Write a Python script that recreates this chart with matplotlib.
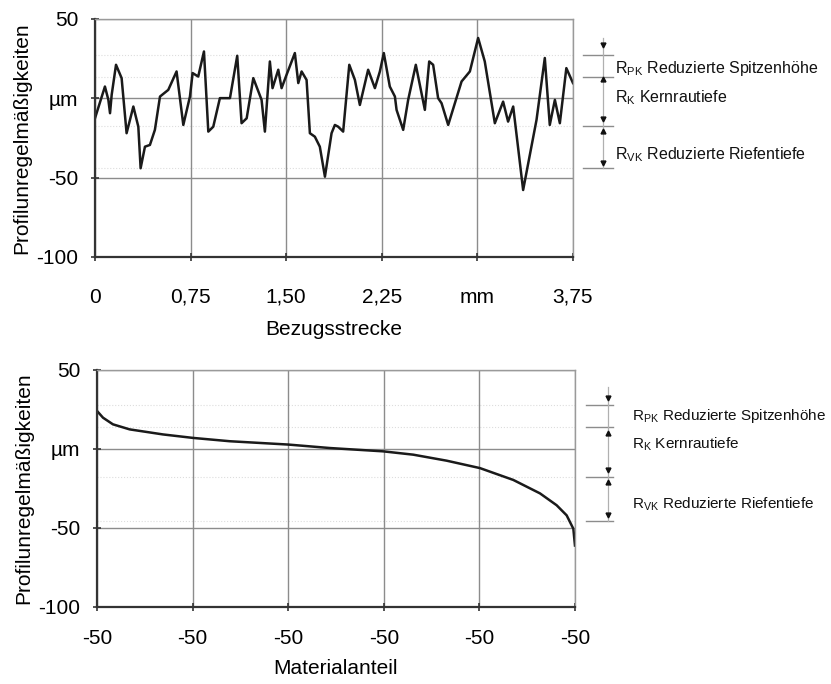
#!/usr/bin/env python
# Rauheitsprofil und Abbott-Kurve mit Rpk / Rk / Rvk Kennwerten
import matplotlib
matplotlib.use("Agg")
import matplotlib.pyplot as plt
import matplotlib.transforms as mtransforms

plt.rcParams['font.family'] = ['Liberation Sans', 'DejaVu Sans']
plt.rcParams['mathtext.default'] = 'regular'

### Daten ###
# Profil (Bezugsstrecke in mm, Profilhoehe in um)
profil_x = [0.0, 0.078, 0.105, 0.118, 0.131, 0.165, 0.209, 0.248, 0.301, 0.340,
            0.358, 0.392, 0.431, 0.470, 0.510, 0.575, 0.640, 0.693, 0.745, 0.766,
            0.810, 0.855, 0.889, 0.928, 0.980, 1.059, 1.116, 1.150, 1.190, 1.242,
            1.307, 1.333, 1.372, 1.393, 1.438, 1.464, 1.503, 1.568, 1.595, 1.621,
            1.660, 1.686, 1.725, 1.764, 1.804, 1.856, 1.882, 1.908, 1.947, 1.995,
            2.039, 2.078, 2.143, 2.196, 2.235, 2.266, 2.313, 2.353, 2.366, 2.418,
            2.457, 2.517, 2.588, 2.622, 2.653, 2.692, 2.719, 2.771, 2.876, 2.941,
            3.006, 3.058, 3.137, 3.202, 3.241, 3.281, 3.359, 3.464, 3.529, 3.568,
            3.608, 3.647, 3.698, 3.750]
profil_y = [-12.6, 7.4, -1.0, -9.4, 2.2, 21.1, 12.7, -22.0, -5.2, -17.9,
            -44.1, -30.5, -29.4, -19.9, 1.1, 5.3, 16.9, -16.8, 1.1, 15.9,
            13.7, 29.5, -21.0, -17.9, 0.1, 0.1, 26.8, -15.7, -12.6, 12.7,
            -1.0, -21.0, 23.2, 6.4, 18.0, 6.4, 14.8, 28.5, 9.6, 16.9,
            11.6, -22.0, -24.2, -30.5, -49.4, -22.0, -16.8, -17.9, -21.0, 21.1,
            11.6, -4.2, 18.0, 6.4, 16.9, 28.5, 7.4, 1.1, -7.3, -19.9,
            -1.0, 21.1, -7.3, 23.2, 21.1, 0.1, -3.1, -16.8, 10.6, 16.9,
            38.0, 23.2, -15.7, -2.1, -14.7, -5.2, -57.8, -13.6, 25.4, -16.8,
            -1.0, -15.7, 19.0, 9.6]

# Materialanteilkurve
abbott_x = [0.0, 0.063, 0.167, 0.342, 0.691, 1.005, 1.389, 2.0, 2.436, 2.994,
            3.308, 3.657, 4.006, 4.355, 4.634, 4.808, 4.913, 4.983, 5.0]
abbott_y = [24.1, 19.8, 15.6, 12.4, 9.2, 7.0, 4.9, 2.8, 0.6, -1.5,
            -3.6, -7.4, -12.1, -19.6, -28.1, -35.6, -42.0, -50.5, -61.1]

y_ticks = [50, 0, -50, -100]
y_ticklabels = ['50', 'µm', '-50', '-100']
top_xticks = [0, 0.75, 1.50, 2.25, 3.00, 3.75]
top_xticklabels = ['0', '0,75', '1,50', '2,25', 'mm', '3,75']
bot_xticks = [0, 1, 2, 3, 4, 5]
bot_xticklabels = ['-50'] * 6

# Kennwert-Grenzen (um) fuer die Bemassung rechts
top_levels = [27, 13.3, -17.5, -44]
bot_levels = [28, 14, -18, -45.5]
labels = [r'R$_{PK}$ Reduzierte Spitzenhöhe', r'R$_K$ Kernrautiefe',
          r'R$_{VK}$ Reduzierte Riefentiefe']

### Funktionen ###
def style_axes(ax, xticks, xlabels, xlim, xpad):
    ax.set_xlim(xlim)
    ax.set_ylim(-100, 50)
    ax.set_xticks(xticks)
    ax.set_xticklabels(xlabels)
    ax.set_yticks(y_ticks)
    ax.set_yticklabels(y_ticklabels)
    ax.grid(True, color='#8c8c8c', lw=1.0)
    ax.set_axisbelow(True)
    for s in ['top', 'right']:
        ax.spines[s].set_color('#9a9a9a')
        ax.spines[s].set_linewidth(1.0)
    for s in ['left', 'bottom']:
        ax.spines[s].set_color('#333333')
        ax.spines[s].set_linewidth(1.6)
    ax.tick_params(axis='x', direction='inout', length=6, width=1.2,
                   color='#333333', labelsize=15, pad=xpad)
    ax.tick_params(axis='y', direction='inout', length=6, width=1.2,
                   color='#333333', labelsize=15, pad=9)
    ax.set_ylabel('Profilunregelmäßigkeiten', fontsize=15, labelpad=4)


def dimension(ax, levels, xline, x0, x1, xtext, marks, texty, fs):
    trans = mtransforms.blended_transform_factory(ax.transAxes, ax.transData)
    for lv in levels:
        ax.plot([x0, x1], [lv, lv], color='#8c8c8c', lw=1.0,
                transform=trans, clip_on=False)
    ax.plot([xline, xline], [levels[0] + 11, levels[-1]], color='#b0b0b0',
            lw=0.9, transform=trans, clip_on=False)
    for my, mk in marks:
        ax.plot([xline], [my], marker=mk, ms=3.5, color='#111111',
                transform=trans, clip_on=False)
    for t, ty in zip(labels, texty):
        ax.text(xtext, ty, t, transform=trans, fontsize=fs, va='center',
                ha='left', color='#111111')


### Plot ###
fig = plt.figure(figsize=(8.31, 6.84), dpi=100)

ax1 = fig.add_axes([0.1143, 0.6243, 0.5752, 0.348])
ax1.plot(profil_x, profil_y, color='#1a1a1a', lw=1.8)
style_axes(ax1, top_xticks, top_xticklabels, (0, 3.75), 19)
ax1.set_xlabel('Bezugsstrecke', fontsize=15, labelpad=10)
for lv in top_levels:
    ax1.axhline(lv, color='#dddddd', lw=0.8, ls=':', zorder=0)
dimension(ax1, top_levels, 1.063, 1.021, 1.084, 1.088,
          [(33.8, 'v'), (12.0, '^'), (-13.0, 'v'), (-20.5, '^'), (-41.0, 'v')],
          [18.6, 0.3, -35.7], 11.5)

ax2 = fig.add_axes([0.1167, 0.1126, 0.5752, 0.3465])
ax2.plot(abbott_x, abbott_y, color='#1a1a1a', lw=1.8)
style_axes(ax2, bot_xticks, bot_xticklabels, (0, 5), 13)
ax2.set_xlabel('Materialanteil', fontsize=15, labelpad=8)
for lv in bot_levels:
    ax2.axhline(lv, color='#dddddd', lw=0.8, ls=':', zorder=0)
dimension(ax2, bot_levels, 1.069, 1.023, 1.079, 1.119,
          [(32.2, 'v'), (10.2, '^'), (-13.2, 'v'), (-20.6, '^'), (-42.0, 'v')],
          [20.9, 3.0, -34.7], 11)

fig.savefig('out.png', dpi=100)
